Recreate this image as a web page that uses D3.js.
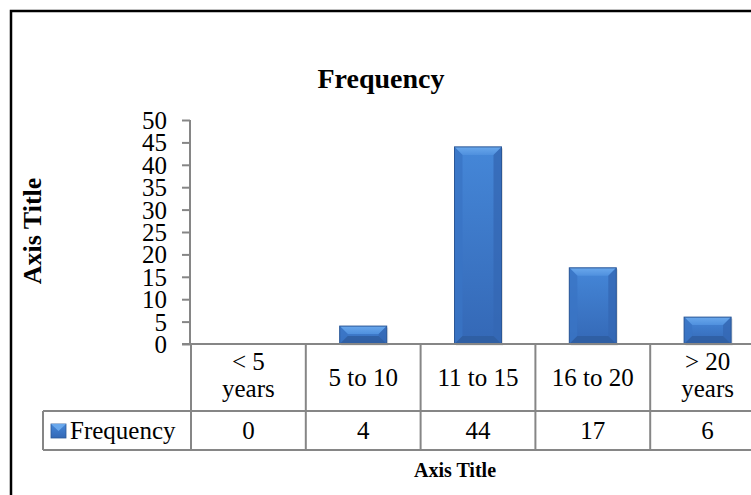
<!DOCTYPE html>
<html><head><meta charset="utf-8">
<script src="https://cdn.jsdelivr.net/npm/d3@7"></script>
<style>body{margin:0;background:#fff;}svg{display:block;font-family:"Liberation Serif","Times New Roman",serif;}</style>
</head><body><svg id="c" width="751" height="495"></svg>
<script>
const categories = [["< 5","years"],["5 to 10"],["11 to 15"],["16 to 20"],["> 20","years"]];
const values = [0, 4, 44, 17, 6];
const seriesName = "Frequency";
const yTicks = [0,5,10,15,20,25,30,35,40,45,50];
const chartTitle = "Frequency";
const xTitle = "Axis Title";
const yTitle = "Axis Title";

const svg = d3.select("#c");
const defs = svg.append("defs");
const g1 = defs.append("linearGradient").attr("id","face").attr("x1",0).attr("y1",0).attr("x2",0).attr("y2",1);
g1.append("stop").attr("offset","0%").attr("stop-color","#4587d8");
g1.append("stop").attr("offset","100%").attr("stop-color","#3468b6");
const g2 = defs.append("linearGradient").attr("id","topb").attr("x1",0).attr("y1",0).attr("x2",0).attr("y2",1);
g2.append("stop").attr("offset","0%").attr("stop-color","#6aa8ec");
g2.append("stop").attr("offset","100%").attr("stop-color","#4f90de");

const x0 = 191, bandW = 114.8;
const x = d3.scaleBand().domain(d3.range(categories.length)).range([x0, x0 + bandW*categories.length]).paddingInner(0).paddingOuter(0);
const y = d3.scaleLinear().domain([0,50]).range([344,120]);
const axisColor = "#868686";
const fs = 25;

// outer frame
svg.append("path").attr("d","M11,495 V11 H751").attr("fill","none").attr("stroke","#000").attr("stroke-width",2.5);

// title
svg.append("text").attr("x",381).attr("y",88).attr("text-anchor","middle").attr("font-size",28).attr("font-weight","bold").text(chartTitle);

// y axis
const yAxis = d3.axisLeft(y).tickValues(yTicks).tickSize(8).tickPadding(15);
const ya = svg.append("g").attr("transform","translate(190,0)").call(yAxis);
ya.attr("font-family",null).attr("font-size",null);
ya.select(".domain").attr("stroke",axisColor).attr("stroke-width",2).attr("d","M0,120V344");
ya.selectAll(".tick line").attr("stroke",axisColor).attr("stroke-width",2);
ya.selectAll(".tick text").attr("font-size",fs).attr("fill","#000").attr("dy","0.34em");

// y title
svg.append("text").attr("transform","translate(41,231) rotate(-90)").attr("text-anchor","middle").attr("font-size",26).attr("font-weight","bold").text(yTitle);

// bars
const barW = 47;
const bars = svg.append("g");
values.forEach((v,i) => {
  if (v <= 0) return;
  const cx = x(i) + x.bandwidth()/2;
  const bx = cx - barW/2, by = y(v), bh = y(0) - y(v);
  const b = Math.min(8, bh/2);
  const gg = bars.append("g");
  gg.append("rect").attr("x",bx+1.5).attr("y",by+1.5).attr("width",barW).attr("height",bh).attr("fill","#000").attr("opacity",0.12);
  gg.append("rect").attr("x",bx).attr("y",by).attr("width",barW).attr("height",bh).attr("fill","url(#face)");
  gg.append("path").attr("d",`M${bx},${by} H${bx+barW} L${bx+barW-b},${by+b} H${bx+b} Z`).attr("fill","url(#topb)");
  gg.append("path").attr("d",`M${bx},${by} L${bx+b},${by+b} V${by+bh-b} L${bx},${by+bh} Z`).attr("fill","#3a74c4").attr("opacity",0.8);
  gg.append("path").attr("d",`M${bx+barW},${by} L${bx+barW-b},${by+b} V${by+bh-b} L${bx+barW},${by+bh} Z`).attr("fill","#3568b4").attr("opacity",0.8);
  gg.append("path").attr("d",`M${bx},${by+bh} L${bx+b},${by+bh-b} H${bx+barW-b} L${bx+barW},${by+bh} Z`).attr("fill","#2e5c9f").attr("opacity",0.8);
  gg.append("rect").attr("x",bx).attr("y",by).attr("width",barW).attr("height",bh).attr("fill","none").attr("stroke","#2b5797").attr("stroke-width",1);
});

// data table
const rowTop = 344, row1 = 411, row2 = 450;
const tbl = svg.append("g").attr("stroke",axisColor).attr("stroke-width",2).attr("fill","none");
tbl.append("line").attr("x1",182).attr("x2",751).attr("y1",rowTop).attr("y2",rowTop);
tbl.append("line").attr("x1",43).attr("x2",751).attr("y1",row1).attr("y2",row1);
tbl.append("line").attr("x1",43).attr("x2",751).attr("y1",row2).attr("y2",row2);
tbl.append("line").attr("x1",43).attr("x2",43).attr("y1",row1).attr("y2",row2);
d3.range(categories.length+1).forEach(i => {
  const xx = x0 + i*bandW;
  if (xx > 751) return;
  tbl.append("line").attr("x1",xx).attr("x2",xx).attr("y1",rowTop).attr("y2",row2);
});

categories.forEach((c,i) => {
  const cx = x(i) + x.bandwidth()/2;
  const t = svg.append("text").attr("text-anchor","middle").attr("font-size",fs);
  if (c.length === 1) {
    t.attr("x",cx).attr("y",386).text(c[0]);
  } else {
    t.append("tspan").attr("x",cx).attr("y",370).text(c[0]);
    t.append("tspan").attr("x",cx).attr("y",397).text(c[1]);
  }
  svg.append("text").attr("x",cx).attr("y",439).attr("text-anchor","middle").attr("font-size",fs).text(values[i]);
});

// legend key
svg.append("rect").attr("x",51).attr("y",424).attr("width",15).attr("height",14).attr("fill","url(#face)").attr("stroke","#2b5797").attr("stroke-width",0.8);
svg.append("path").attr("d","M51,424 H66 L58.5,431 Z").attr("fill","#6aa8ec");
svg.append("text").attr("x",70).attr("y",439).attr("font-size",fs).text(seriesName);

// x title
svg.append("text").attr("x",455).attr("y",477).attr("text-anchor","middle").attr("font-size",20).attr("font-weight","bold").text(xTitle);
</script></body></html>
